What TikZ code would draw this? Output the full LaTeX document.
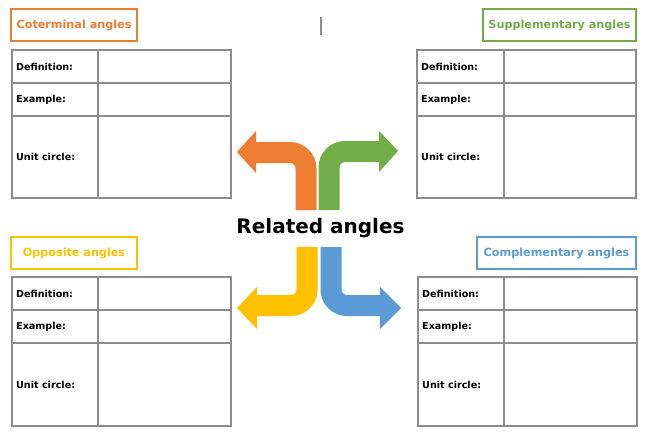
\documentclass[tikz,border=0pt]{standalone}
\usepackage{fontspec}
\setmainfont{DejaVu Sans}
\usepackage{xcolor}
\usetikzlibrary{positioning}

\definecolor{coterm}{HTML}{ED7D31}
\definecolor{suppl}{HTML}{70AD47}
\definecolor{oppos}{HTML}{FFC000}
\definecolor{compl}{HTML}{5B9BD5}
\definecolor{gridgray}{HTML}{8C8C8C}

\begin{document}
\begin{tikzpicture}[x=1pt, y=-1pt,
  title/.style={rectangle, draw=#1, line width=1.6pt, text=#1, font=\bfseries\fontsize{11.2}{13}\selectfont, minimum height=32pt, inner sep=0pt},
  grid/.style={draw=gridgray, line width=1.3pt},
  rowlabel/.style={anchor=west, font=\bfseries\fontsize{9.6}{11}\selectfont, inner sep=0pt},
  bend/.style={line width=21pt, draw=#1, rounded corners=16pt},
  head/.style={fill=#1}]

  \useasboundingbox (0,0) rectangle (647,434);

  % titles
  \node (coterm) [title=coterm, minimum width=126pt] at (74,25) {Coterminal angles};
  \node (suppl) [title=suppl, minimum width=153pt] at (559.5,25) {Supplementary angles};
  \node (oppos) [title=oppos, minimum width=126pt] at (74,253) {Opposite angles};
  \node (compl) [title=compl, minimum width=159pt] at (556.5,253) {Complementary angles};

  \draw [grid] (321,17) -- (321,35);

  % tables
  \draw [grid] (12,50) rectangle (231,198);
  \draw [grid] (12,83) -- (231,83) (12,116) -- (231,116) (98,50) -- (98,198);
  \node (tldef) [rowlabel] at (16,66.5) {Definition:};
  \node (tlex) [rowlabel] at (16,99.5) {Example:};
  \node (tlunit) [rowlabel] at (16,157) {Unit circle:};

  \draw [grid] (417,50) rectangle (636,198);
  \draw [grid] (417,83) -- (636,83) (417,116) -- (636,116) (504,50) -- (504,198);
  \node (trdef) [rowlabel] at (421,66.5) {Definition:};
  \node (trex) [rowlabel] at (421,99.5) {Example:};
  \node (trunit) [rowlabel] at (421,157) {Unit circle:};

  \draw [grid] (12,277) rectangle (231,426);
  \draw [grid] (12,310) -- (231,310) (12,343) -- (231,343) (98,277) -- (98,426);
  \node (bldef) [rowlabel] at (16,293.5) {Definition:};
  \node (blex) [rowlabel] at (16,326.5) {Example:};
  \node (blunit) [rowlabel] at (16,384.5) {Unit circle:};

  \draw [grid] (418,277) rectangle (637,426);
  \draw [grid] (418,310) -- (637,310) (418,343) -- (637,343) (504,277) -- (504,426);
  \node (brdef) [rowlabel] at (422,293.5) {Definition:};
  \node (brex) [rowlabel] at (422,326.5) {Example:};
  \node (brunit) [rowlabel] at (422,384.5) {Unit circle:};

  % centre
  \node (related) [font=\bfseries\fontsize{20}{24}\selectfont] at (320.5,228) {Related angles};

  \draw [bend=coterm] (306,210) -- (306,152.5) -- (254,152.5);
  \fill [head=coterm] (256,131) -- (237,152) -- (256,173) -- cycle;
  \draw [bend=suppl] (329,210) -- (329,151.5) -- (381,151.5);
  \fill [head=suppl] (379,131) -- (398,151) -- (379,172) -- cycle;
  \draw [bend=oppos] (307,247) -- (307,305.5) -- (255,305.5);
  \fill [head=oppos] (257,287) -- (237,308) -- (257,329) -- cycle;
  \draw [bend=compl] (331,247) -- (331,305.5) -- (382,305.5);
  \fill [head=compl] (380,287) -- (401,308) -- (380,329) -- cycle;
\end{tikzpicture}
\end{document}
